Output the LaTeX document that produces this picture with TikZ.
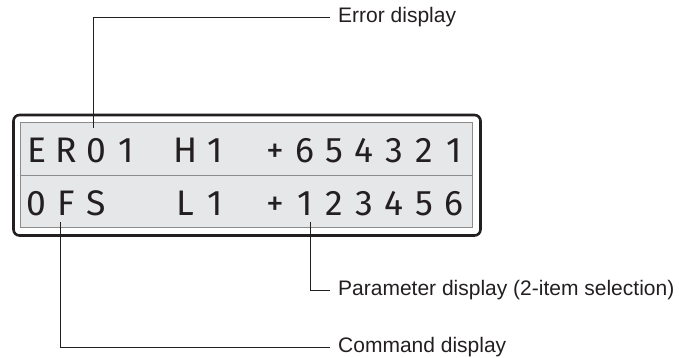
\documentclass[tikz,border=0pt]{standalone}
\usepackage{fontspec}
\setmainfont{Liberation Sans}
\newfontfamily\lcdfont{Fira Sans}
\usepackage{tikz}

\definecolor{lcdgray}{HTML}{E6E7E8}
\definecolor{lcdedge}{HTML}{8C8C8C}
\definecolor{ink}{HTML}{231F20}

\begin{document}
\begin{tikzpicture}[x=1pt,y=-1pt,
    frame/.style={draw=ink,line width=2.6pt,rounded corners=6pt},
    panel/.style={draw=lcdedge,fill=lcdgray,line width=0.9pt},
    lcd/.style={anchor=base,inner sep=0pt,text=ink,font=\lcdfont\fontsize{35.5}{40}\selectfont},
    leader/.style={draw=ink,line width=0.8pt},
    callout/.style={anchor=west,inner xsep=8pt,inner ysep=0pt,text=ink,font=\fontsize{21}{25}\selectfont}]

      \useasboundingbox (0,0) rectangle (679,357);

      % display housing and the two text rows
      \draw[frame] (13.5,115) rectangle (480.5,235.5);
      \draw[panel] (20,122.7) rectangle (472.7,227.3);
      \draw[lcdedge,line width=0.9pt] (20,175) -- (472.7,175);

      \foreach \ch [count=\i from 0] in {E,R,0,1,{},H,1,{},+,6,5,4,3,2,1}
        \node[lcd] (top\i) at (36.5+29.8*\i,162.5) {\ch};
      \foreach \ch [count=\i from 0] in {0,F,S,{},{},L,1,{},+,1,2,3,4,5,6}
        \node[lcd] (bot\i) at (36.5+29.8*\i,215.5) {\ch};

      % callouts
      \node[callout] (errlbl) at (330,17) {Error display};
      \node[callout] (parlbl) at (330,290) {Parameter display (2-item selection)};
      \node[callout] (cmdlbl) at (330,347) {Command display};

      \coordinate (errtip) at (93,128);
      \coordinate (partip) at (310,222);
      \coordinate (cmdtip) at (60,222);

      \draw[leader] (errtip) |- (errlbl.west);
      \draw[leader] (partip) |- (parlbl.west);
      \draw[leader] (cmdtip) |- (cmdlbl.west);

    \end{tikzpicture}
\end{document}
